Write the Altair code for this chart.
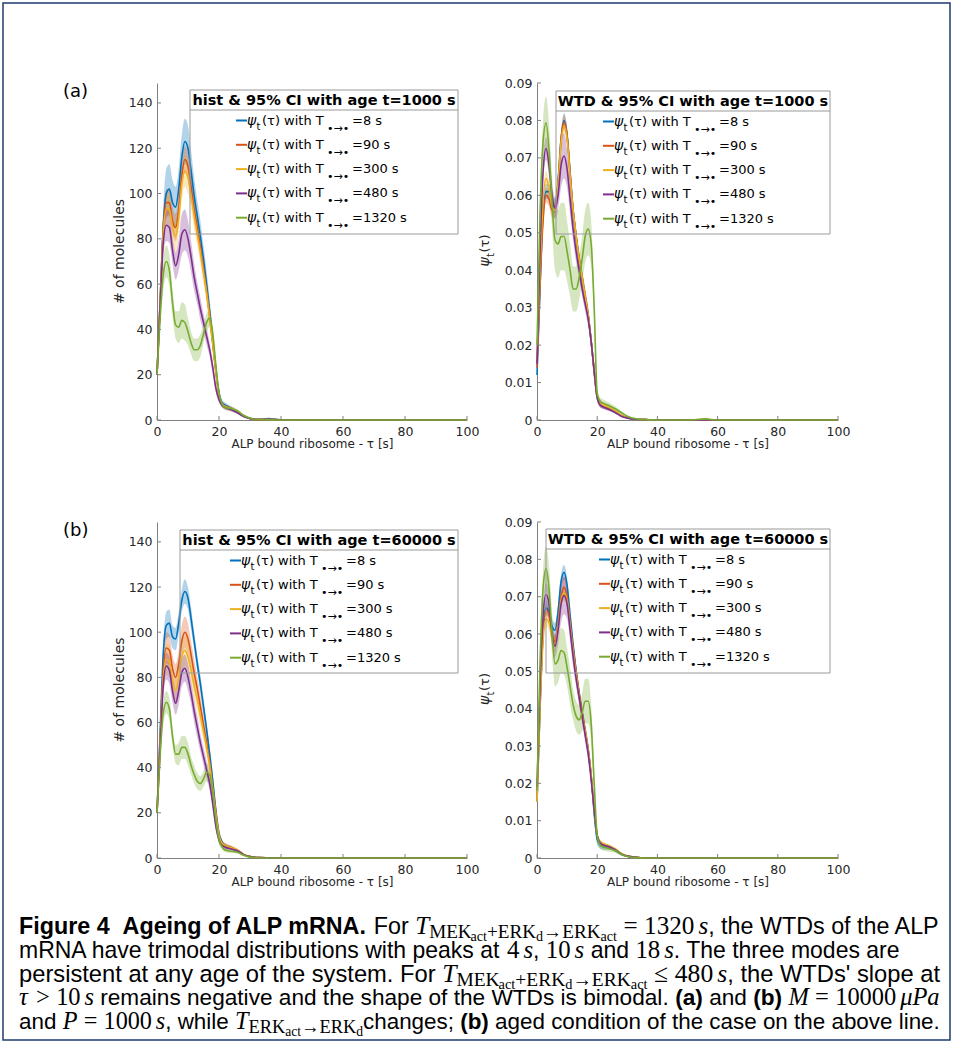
import altair as alt
import pandas as pd

# ---------------- data ----------------
TAU = [0, 1, 2, 3, 4, 5, 6, 7, 8, 9, 10, 11, 12, 13, 14, 15, 16, 17, 18, 19, 20,
       21, 22, 24, 26, 28, 30, 33, 36, 40, 50, 56, 60, 80, 100]
SERIES = ["8 s", "90 s", "300 s", "480 s", "1320 s"]
LEG_LABELS = ["=8 s", "=90 s", "=300 s", "=480 s", "=1320 s"]
COLORS = ["#0072BD", "#D95319", "#EDB120", "#7E2F8E", "#77AC30"]
X_TICKS = [0, 20, 40, 60, 80, 100]
HIST_TICKS = [0, 20, 40, 60, 80, 100, 120, 140]
WTD_TICKS = [0, 0.01, 0.02, 0.03, 0.04, 0.05, 0.06, 0.07, 0.08, 0.09]

# (a) histogram, age t = 1000 s
A_HIST_8 = [20, 52, 85, 100, 102, 96, 94, 102, 116, 123, 120, 110, 99, 90, 81, 71, 60, 48, 35, 22, 12, 7.5, 6.5, 5, 3.5, 1.8, 0.8, 0.3, 0.6, 0.1, 0, 0, 0, 0, 0]
A_HIST_8_CI = [3, 6, 9, 11, 11, 10, 9, 9, 10, 10, 10, 9, 8, 7, 7, 6, 6, 5, 4, 3, 2, 1.5, 1.2, 1, 0.8, 0.5, 0.3, 0.2, 0.3, 0.1, 0, 0, 0, 0, 0]
A_HIST_90 = [20, 52, 84, 96, 96, 88, 85, 93, 108, 115, 112, 103, 93, 85, 76, 67, 57, 46, 34, 21, 11, 7, 6, 5, 3.5, 1.6, 0.7, 0.2, 0.3, 0.1, 0, 0, 0, 0, 0]
A_HIST_90_CI = [2, 4, 6, 6, 6, 6, 6, 6, 6, 6, 6, 6, 5, 5, 5, 4, 4, 4, 3, 2, 1.5, 1.2, 1, 0.8, 0.6, 0.4, 0.2, 0.1, 0.1, 0, 0, 0, 0, 0, 0]
A_HIST_300 = [20, 51, 82, 93, 93, 85, 81, 89, 104, 110, 107, 99, 90, 82, 74, 65, 56, 45, 33, 21, 11, 7, 6, 5, 3.8, 1.8, 0.7, 0.2, 0.2, 0.1, 0, 0, 0, 0, 0]
A_HIST_300_CI = [2, 4, 6, 7, 7, 7, 7, 7, 7, 7, 7, 6, 6, 5, 5, 5, 4, 4, 3, 2, 1.5, 1.2, 1, 0.8, 0.6, 0.4, 0.2, 0.1, 0.1, 0, 0, 0, 0, 0, 0]
A_HIST_480 = [20, 50, 78, 86, 85, 75, 68, 73, 82, 84, 80, 72, 63, 56, 49, 43, 37, 31, 23, 14, 9, 6.5, 5.5, 4.5, 3.2, 1.5, 0.6, 0.2, 0.2, 0.1, 0, 0, 0, 0, 0]
A_HIST_480_CI = [2, 4, 6, 7, 7, 6, 6, 7, 9, 9, 8, 7, 6, 5, 5, 4, 4, 3, 3, 2, 1.5, 1, 1, 0.8, 0.6, 0.4, 0.2, 0.1, 0.1, 0, 0, 0, 0, 0, 0]
A_HIST_1320 = [20, 45, 64, 70, 66, 52, 42, 41, 44, 43, 39, 34, 31, 31, 33, 38, 43, 45, 38, 24, 12, 7, 5.5, 5, 4, 2, 0.8, 0.2, 0.1, 0, 0, 0, 0, 0, 0]
A_HIST_1320_CI = [2, 5, 7, 7, 7, 6, 6, 7, 8, 8, 6, 5, 5, 5, 5, 4, 4, 4, 4, 3, 2, 1.5, 1, 1, 0.8, 0.5, 0.3, 0.1, 0.1, 0, 0, 0, 0, 0, 0]

# (a) WTD, age t = 1000 s
A_WTD_8 = [0.012, 0.035, 0.055, 0.061, 0.061, 0.058, 0.057, 0.064, 0.075, 0.080, 0.076, 0.066, 0.056, 0.049, 0.043, 0.038, 0.033, 0.028, 0.021, 0.013, 0.006, 0.0042, 0.0036, 0.003, 0.0022, 0.0012, 0.0006, 0.0002, 0.0001, 0, 0, 0, 0, 0, 0]
A_WTD_8_CI = [0.001, 0.0015, 0.002, 0.002, 0.002, 0.002, 0.002, 0.002, 0.002, 0.002, 0.002, 0.002, 0.002, 0.002, 0.002, 0.002, 0.002, 0.002, 0.002, 0.0015, 0.001, 0.0008, 0.0006, 0.0005, 0.0004, 0.0003, 0.0002, 0.0001, 0, 0, 0, 0, 0, 0, 0]
A_WTD_90 = [0.014, 0.036, 0.053, 0.060, 0.059, 0.056, 0.056, 0.063, 0.075, 0.0795, 0.076, 0.066, 0.056, 0.049, 0.043, 0.038, 0.033, 0.028, 0.021, 0.013, 0.006, 0.0042, 0.0036, 0.003, 0.0022, 0.0012, 0.0006, 0.0002, 0.0001, 0, 0, 0, 0, 0, 0]
A_WTD_90_CI = [0.001, 0.0015, 0.002, 0.002, 0.002, 0.002, 0.002, 0.002, 0.002, 0.002, 0.002, 0.002, 0.002, 0.002, 0.002, 0.002, 0.002, 0.002, 0.002, 0.0015, 0.001, 0.0008, 0.0006, 0.0005, 0.0004, 0.0003, 0.0002, 0.0001, 0, 0, 0, 0, 0, 0, 0]
A_WTD_300 = [0.016, 0.040, 0.058, 0.0645, 0.062, 0.057, 0.056, 0.063, 0.074, 0.0785, 0.075, 0.065, 0.056, 0.049, 0.043, 0.038, 0.033, 0.028, 0.021, 0.013, 0.006, 0.0045, 0.004, 0.0033, 0.0024, 0.0013, 0.0006, 0.0002, 0.0001, 0, 0, 0, 0, 0, 0]
A_WTD_300_CI = [0.001, 0.002, 0.002, 0.002, 0.002, 0.002, 0.002, 0.002, 0.002, 0.002, 0.002, 0.002, 0.002, 0.002, 0.002, 0.002, 0.002, 0.002, 0.002, 0.0015, 0.001, 0.0008, 0.0006, 0.0005, 0.0004, 0.0003, 0.0002, 0.0001, 0, 0, 0, 0, 0, 0, 0]
A_WTD_480 = [0.015, 0.045, 0.066, 0.0725, 0.068, 0.060, 0.0565, 0.060, 0.068, 0.0705, 0.067, 0.059, 0.051, 0.045, 0.040, 0.035, 0.031, 0.027, 0.021, 0.013, 0.006, 0.004, 0.0035, 0.0028, 0.002, 0.001, 0.0005, 0.0002, 0.0001, 0, 0, 0, 0, 0, 0]
A_WTD_480_CI = [0.001, 0.002, 0.003, 0.003, 0.003, 0.003, 0.003, 0.004, 0.006, 0.006, 0.005, 0.004, 0.003, 0.003, 0.002, 0.002, 0.002, 0.002, 0.0015, 0.001, 0.0008, 0.0006, 0.0005, 0.0004, 0.0003, 0.0002, 0.0001, 0, 0, 0, 0, 0, 0, 0, 0]
A_WTD_1320 = [0.020, 0.055, 0.074, 0.0794, 0.072, 0.058, 0.048, 0.047, 0.049, 0.049, 0.045, 0.040, 0.035, 0.035, 0.038, 0.043, 0.049, 0.051, 0.047, 0.030, 0.007, 0.005, 0.0045, 0.0038, 0.003, 0.002, 0.001, 0.0003, 0.0001, 0, 0, 0.0003, 0, 0, 0]
A_WTD_1320_CI = [0.002, 0.004, 0.006, 0.007, 0.007, 0.007, 0.008, 0.009, 0.009, 0.009, 0.008, 0.007, 0.006, 0.006, 0.006, 0.006, 0.007, 0.007, 0.006, 0.004, 0.002, 0.001, 0.001, 0.0008, 0.0006, 0.0004, 0.0002, 0.0001, 0, 0, 0, 0.0002, 0, 0, 0]

# (b) histogram, age t = 60000 s
B_HIST_8 = [20, 55, 90, 103, 104, 98, 97, 104, 114, 118, 115, 106, 96, 86, 77, 67, 57, 46, 34, 21, 11, 7, 5.5, 4.5, 3, 1.5, 0.6, 0.2, 0.1, 0, 0, 0, 0, 0, 0]
B_HIST_8_CI = [2, 4, 5, 6, 6, 5, 5, 5, 5, 5.5, 5, 5, 4, 4, 4, 4, 3, 3, 3, 2, 1.5, 1.2, 1, 0.8, 0.6, 0.4, 0.2, 0.1, 0, 0, 0, 0, 0, 0, 0]
B_HIST_90 = [20, 52, 83, 93, 92, 84, 80, 86, 96, 100, 97, 90, 82, 75, 67, 59, 51, 42, 31, 20, 10, 6.5, 5.5, 4.5, 3.2, 1.5, 0.6, 0.2, 0.1, 0, 0, 0, 0, 0, 0]
B_HIST_90_CI = [2, 4, 6, 7, 7, 6, 6, 6, 7, 7, 7, 6, 6, 5, 5, 4, 4, 4, 3, 2, 1.5, 1.2, 1, 0.8, 0.6, 0.4, 0.2, 0.1, 0, 0, 0, 0, 0, 0, 0]
B_HIST_300 = [20, 50, 79, 88, 87, 79, 74, 80, 89, 92, 89, 83, 76, 70, 63, 56, 49, 41, 30, 19, 10, 6.5, 5.5, 4.5, 3.5, 1.6, 0.6, 0.2, 0.1, 0, 0, 0, 0, 0, 0]
B_HIST_300_CI = [2, 4, 6, 7, 7, 6, 6, 7, 7, 7, 7, 6, 6, 5, 5, 4, 4, 4, 3, 2, 1.5, 1.2, 1, 1, 0.8, 0.4, 0.2, 0.1, 0, 0, 0, 0, 0, 0, 0]
B_HIST_480 = [20, 48, 76, 85, 83, 74, 68.5, 74, 82, 84, 80, 73, 65, 58, 51, 45, 39, 33, 24, 14, 8, 5.5, 4.8, 4, 3.2, 1.5, 0.6, 0.2, 0.1, 0, 0, 0, 0, 0, 0]
B_HIST_480_CI = [2, 4, 5, 6, 6, 5, 5, 6, 6, 6, 6, 5, 5, 5, 4, 4, 4, 3, 3, 2, 1.5, 1, 1, 0.8, 0.6, 0.4, 0.2, 0.1, 0, 0, 0, 0, 0, 0, 0]
B_HIST_1320 = [20, 45, 64, 69, 66, 54, 46, 46, 49, 49, 46, 41, 37, 34, 33, 35, 38, 37, 29, 17, 8, 5, 3.5, 3, 2.5, 1.2, 0.4, 0.1, 0, 0, 0, 0, 0, 0, 0]
B_HIST_1320_CI = [2, 4, 5, 5, 5, 4, 4, 5, 5, 5, 5, 4, 4, 3.5, 3.3, 3.5, 4, 4, 4, 3, 2, 1.2, 1, 0.8, 0.6, 0.4, 0.2, 0.1, 0, 0, 0, 0, 0, 0, 0]

# (b) WTD, age t = 60000 s
B_WTD_8 = [0.015, 0.040, 0.060, 0.067, 0.066, 0.062, 0.061, 0.066, 0.074, 0.0765, 0.073, 0.065, 0.057, 0.050, 0.044, 0.039, 0.034, 0.029, 0.022, 0.012, 0.005, 0.0035, 0.003, 0.0028, 0.002, 0.001, 0.0005, 0.0002, 0, 0, 0, 0, 0, 0, 0]
B_WTD_8_CI = [0.001, 0.002, 0.002, 0.002, 0.002, 0.002, 0.002, 0.002, 0.002, 0.002, 0.002, 0.002, 0.002, 0.002, 0.002, 0.002, 0.002, 0.002, 0.002, 0.002, 0.0015, 0.001, 0.0008, 0.0006, 0.0004, 0.0003, 0.0002, 0.0001, 0, 0, 0, 0, 0, 0, 0]
B_WTD_90 = [0.016, 0.041, 0.060, 0.0665, 0.065, 0.060, 0.058, 0.063, 0.070, 0.0725, 0.070, 0.063, 0.056, 0.050, 0.044, 0.039, 0.034, 0.029, 0.022, 0.013, 0.006, 0.004, 0.0035, 0.003, 0.0022, 0.0011, 0.0005, 0.0002, 0, 0, 0, 0, 0, 0, 0]
B_WTD_90_CI = [0.001, 0.0015, 0.0015, 0.0015, 0.0015, 0.0015, 0.0015, 0.002, 0.003, 0.003, 0.003, 0.002, 0.002, 0.0015, 0.0015, 0.0015, 0.0015, 0.0015, 0.0015, 0.001, 0.001, 0.0008, 0.0006, 0.0005, 0.0004, 0.0003, 0.0002, 0.0001, 0, 0, 0, 0, 0, 0, 0]
B_WTD_300 = [0.015, 0.040, 0.058, 0.064, 0.063, 0.059, 0.057, 0.062, 0.069, 0.071, 0.069, 0.062, 0.055, 0.049, 0.043, 0.038, 0.034, 0.029, 0.022, 0.013, 0.006, 0.0042, 0.0038, 0.0032, 0.0024, 0.0012, 0.0005, 0.0002, 0, 0, 0, 0, 0, 0, 0]
B_WTD_300_CI = [0.001, 0.002, 0.002, 0.002, 0.002, 0.002, 0.002, 0.002, 0.002, 0.002, 0.002, 0.002, 0.002, 0.002, 0.002, 0.002, 0.002, 0.002, 0.002, 0.0015, 0.001, 0.0008, 0.0006, 0.0005, 0.0004, 0.0003, 0.0002, 0.0001, 0, 0, 0, 0, 0, 0, 0]
B_WTD_480 = [0.019, 0.046, 0.065, 0.0706, 0.068, 0.060, 0.0567, 0.061, 0.068, 0.0703, 0.068, 0.061, 0.054, 0.048, 0.043, 0.038, 0.033, 0.028, 0.021, 0.013, 0.006, 0.004, 0.0035, 0.003, 0.0022, 0.0011, 0.0005, 0.0002, 0, 0, 0, 0, 0, 0, 0]
B_WTD_480_CI = [0.001, 0.002, 0.003, 0.003, 0.003, 0.003, 0.003, 0.004, 0.005, 0.005, 0.004, 0.003, 0.003, 0.002, 0.002, 0.002, 0.002, 0.002, 0.0015, 0.001, 0.0008, 0.0006, 0.0005, 0.0004, 0.0003, 0.0002, 0.0001, 0, 0, 0, 0, 0, 0, 0, 0]
B_WTD_1320 = [0.018, 0.052, 0.072, 0.0775, 0.072, 0.060, 0.052, 0.053, 0.0556, 0.055, 0.051, 0.046, 0.041, 0.038, 0.037, 0.039, 0.042, 0.042, 0.036, 0.020, 0.006, 0.0035, 0.003, 0.0025, 0.002, 0.001, 0.0004, 0.0001, 0, 0, 0, 0, 0, 0, 0]
B_WTD_1320_CI = [0.002, 0.004, 0.005, 0.006, 0.006, 0.006, 0.006, 0.006, 0.006, 0.006, 0.005, 0.005, 0.004, 0.004, 0.004, 0.005, 0.006, 0.006, 0.005, 0.004, 0.002, 0.001, 0.001, 0.0008, 0.0006, 0.0004, 0.0002, 0.0001, 0, 0, 0, 0, 0, 0, 0]

# ---------------- styling helpers ----------------
SANS = "DejaVu Sans"
SERIF = "Liberation Serif"
CAPF = "Liberation Sans"
TXT = "#262626"
AXIS_C = "#808080"
LEG_C = "#9a9a9a"
FRAME_C = "#1f3b6e"
ONE = pd.DataFrame({"k": [0]})


def txt(s, x, y, size=13, weight="normal", font=SANS, align="left",
        baseline="middle", angle=None, style="normal", color="#000000"):
    kw = dict(align=align, baseline=baseline, font=font, fontSize=size,
              fontWeight=weight, fontStyle=style, color=color)
    if angle is not None:
        kw["angle"] = angle
    return alt.Chart(ONE).mark_text(**kw).encode(
        x=alt.value(x), y=alt.value(y), text=alt.value(s))


def hrule(x0, x1, y, color, width=1.0):
    return alt.Chart(ONE).mark_rule(color=color, strokeWidth=width).encode(
        x=alt.value(x0), x2=alt.value(x1), y=alt.value(y))


def legend_layers(geom, title):
    bx0, bx1, by0, by1, sx = geom
    layers = [
        alt.Chart(ONE).mark_rect(fillOpacity=0, stroke=LEG_C, strokeWidth=1).encode(
            x=alt.value(bx0), x2=alt.value(bx1), y=alt.value(by0), y2=alt.value(by1)),
        hrule(bx0, bx1, by0 + 20, LEG_C),
        txt(title, (bx0 + bx1) / 2, by0 + 10.5, size=14.5, weight="bold", align="center"),
    ]
    for i, (lab, col) in enumerate(zip(LEG_LABELS, COLORS)):
        y = by0 + 30.5 + i * 24.3
        layers += [
            hrule(sx, sx + 11, y, col, 2),
            txt("ψ", sx + 11, y, size=14, style="italic"),
            txt("t", sx + 20.5, y + 6, size=10),
            txt("(τ) with T", sx + 26, y),
            txt("•→•", sx + 91, y + 8, size=11),
            txt(lab, sx + 116, y),
        ]
    return layers


def panel(series, w, h, ymax, yticks, wtd, geom, title, tag=None):
    rows = []
    for name, mean, ci in series:
        for t, m, c in zip(TAU, mean, ci):
            rows.append({"tau": t, "mean": m, "lo": max(m - c, 0.0), "hi": m + c,
                         "series": name})
    df = pd.DataFrame(rows)
    xscale = alt.Scale(domain=[0, 100], nice=False, zero=False)
    yscale = alt.Scale(domain=[0, ymax], nice=False, zero=True)
    xaxis = alt.Axis(values=X_TICKS, title="ALP bound ribosome - τ [s]", ticks=False,
                     grid=False, domainColor=AXIS_C, domainWidth=1, labelColor=TXT,
                     labelFont=SANS, labelFontSize=12.5, labelPadding=5, labelFlush=False,
                     labelOverlap=False, titleFont=SANS, titleFontSize=12,
                     titleFontWeight="normal", titleColor=TXT, titlePadding=1)
    ykw = dict(values=yticks, title="", ticks=False, grid=False, domainColor=AXIS_C,
               domainWidth=1, labelColor=TXT, labelFont=SANS, labelFontSize=12.5,
               labelPadding=5, labelFlush=False, labelOverlap=False)
    if wtd:
        ykw["labelExpr"] = "datum.value == 0 ? '0' : format(datum.value, '.2f')"
    yaxis = alt.Axis(**ykw)
    X = alt.X("tau:Q", scale=xscale, axis=xaxis)
    color = alt.Color("series:N", scale=alt.Scale(domain=SERIES, range=COLORS), legend=None)

    band = alt.Chart(df).mark_area(opacity=0.3, interpolate="monotone").encode(
        X, alt.Y("lo:Q", scale=yscale, axis=yaxis), alt.Y2("hi:Q"), color)
    line = alt.Chart(df).mark_line(strokeWidth=1.6, interpolate="monotone").encode(
        X, alt.Y("mean:Q", scale=yscale, axis=yaxis), color)
    xt = alt.Chart(pd.DataFrame({"tau": X_TICKS})).mark_rule(color=AXIS_C).encode(
        X, y=alt.value(h), y2=alt.value(h - 4))
    yt = alt.Chart(pd.DataFrame({"mean": yticks})).mark_rule(color=AXIS_C).encode(
        alt.Y("mean:Q", scale=yscale, axis=yaxis), x=alt.value(0), x2=alt.value(4))

    layers = [band, line, xt, yt] + legend_layers(geom, title)
    if wtd:
        cy = h / 2
        layers += [
            txt("ψ", -52, cy + 15, size=14, angle=270, style="italic", color=TXT),
            txt("t", -46.5, cy + 5.5, size=10, angle=270, color=TXT),
            txt("(τ)", -52, cy + 1, size=13, angle=270, color=TXT),
        ]
    else:
        layers.append(txt("# of molecules", -37, h / 2, size=14, align="center",
                          angle=270, color=TXT))
    if tag:
        layers.append(txt(tag, -94, 9, size=18, color="#000000"))
    return alt.layer(*layers).properties(width=w, height=h)


# ---------------- caption (real text, laid out piece by piece) ----------------
def _tbl(chars, widths):
    return dict(zip(chars, widths))

UP = "ABCDEFGHIJKLMNOPQRSTUVWXYZ"
LO = "abcdefghijklmnopqrstuvwxyz"
PUN = " !'(),-.:;0123456789"
ARIAL_R = _tbl(UP, [667, 667, 722, 722, 667, 611, 778, 722, 278, 500, 667, 556, 833, 722, 778, 667, 778, 722, 667, 611, 722, 667, 944, 667, 667, 611])
ARIAL_R.update(_tbl(LO, [556, 556, 500, 556, 556, 278, 556, 556, 222, 222, 500, 222, 833, 556, 556, 556, 556, 333, 500, 278, 556, 500, 722, 500, 500, 500]))
ARIAL_R.update(_tbl(PUN, [278, 278, 191, 333, 333, 278, 333, 278, 278, 278] + [556] * 10))
ARIAL_B = _tbl(UP, [722, 722, 722, 722, 667, 611, 778, 722, 278, 556, 722, 611, 833, 722, 778, 667, 778, 722, 667, 611, 722, 667, 944, 667, 667, 611])
ARIAL_B.update(_tbl(LO, [556, 611, 556, 611, 556, 333, 611, 611, 278, 278, 556, 278, 889, 611, 611, 611, 611, 389, 556, 333, 611, 556, 778, 556, 556, 500]))
ARIAL_B.update(_tbl(PUN, [278, 333, 238, 333, 333, 278, 333, 278, 333, 333] + [556] * 10))
TIMES = {"T": 556, "M": 833, "E": 611, "K": 722, "R": 667, "a": 444, "c": 444, "t": 278,
         "+": 564, "d": 500, "→": 1000, "=": 564, ">": 564, "≤": 549, "s": 389,
         "P": 611, "μ": 576, "τ": 440}
TIMES.update({d: 500 for d in "0123456789"})

MREL = 1.08   # math size relative to text size
STY = {
    "r": dict(font=CAPF, rel=1.0, weight="normal", style="normal", dy=0, tbl=ARIAL_R),
    "b": dict(font=CAPF, rel=1.0, weight="bold", style="normal", dy=0, tbl=ARIAL_B),
    "mi": dict(font=SERIF, rel=MREL, weight="normal", style="italic", dy=0, tbl=TIMES),
    "mr": dict(font=SERIF, rel=MREL, weight="normal", style="normal", dy=0, tbl=TIMES),
    "s1": dict(font=SERIF, rel=MREL * 0.76, weight="normal", style="normal", dy=0.17, tbl=TIMES),
    "s2": dict(font=SERIF, rel=MREL * 0.56, weight="normal", style="normal", dy=0.31, tbl=TIMES),
}
GAPS = {"sp": 0.278, "th": 0.17}


def em_width(text, st):
    s = STY[st]
    return sum(s["tbl"].get(ch, 556) for ch in text) / 1000.0 * s["rel"]


SP = ("", "sp")
TH = ("", "th")
TSUB1 = [("T", "mi"), ("MEK", "s1"), ("act", "s2"), ("+ERK", "s1"), ("d", "s2"),
         ("→ERK", "s1"), ("act", "s2")]
CAP_LINES = [
    ([("Figure 4", "b"), SP, SP, ("Ageing of ALP mRNA.", "b"), SP, ("For", "r"), SP] + TSUB1 +
     [SP, ("=", "mr"), SP, ("1320", "mr"), TH, ("s", "mi"), (",", "r"), SP,
      ("the WTDs of the ALP", "r")], True),
    ([("mRNA have trimodal distributions with peaks at", "r"), SP, ("4", "mr"), TH, ("s", "mi"),
      (",", "r"), SP, ("10", "mr"), TH, ("s", "mi"), SP, ("and", "r"), SP, ("18", "mr"), TH,
      ("s", "mi"), (". The three modes are", "r")], False),
    ([("persistent at any age of the system. For", "r"), SP] + TSUB1 +
     [SP, ("≤", "mr"), SP, ("480", "mr"), TH, ("s", "mi"), (",", "r"), SP,
      ("the WTDs' slope at", "r")], True),
    ([("τ", "mi"), SP, (">", "mr"), SP, ("10", "mr"), TH, ("s", "mi"), SP,
      ("remains negative and the shape of the WTDs is bimodal.", "r"), SP, ("(a)", "b"), SP,
      ("and", "r"), SP, ("(b)", "b"), SP, ("M", "mi"), SP, ("=", "mr"), SP, ("10000", "mr"), TH,
      ("μPa", "mi")], True),
    ([("and", "r"), SP, ("P", "mi"), SP, ("=", "mr"), SP, ("1000", "mr"), TH, ("s", "mi"),
      (", while", "r"), SP, ("T", "mi"), ("ERK", "s1"), ("act", "s2"), ("→ERK", "s1"), ("d", "s2"),
      ("changes;", "r"), SP, ("(b)", "b"), SP,
      ("aged condition of the case on the above line.", "r")], True),
]
CAP_X0, CAP_X1, CAP_X1_SHORT = 19, 940, 900
CAP_BASE = [934, 958, 982, 1005, 1029]


def line_em(tokens):
    return sum(GAPS[st] if st in GAPS else em_width(t, st) for t, st in tokens)


# text size calibrated so that the unjustified second line ends where it does
CS = (CAP_X1_SHORT - CAP_X0) / line_em(CAP_LINES[1][0])


def caption_layers(ox, oy):
    layers = []
    for (tokens, justify), base in zip(CAP_LINES, CAP_BASE):
        nat = line_em(tokens) * CS
        # each justified line is set at a size that fills the measure with normal spacing
        f = (CAP_X1 - CAP_X0) / nat if justify else 1.0
        f = min(max(f, 0.9), 1.1)
        size = CS * f
        x = CAP_X0
        for t, st in tokens:
            if st in GAPS:
                x += GAPS[st] * size
                continue
            s = STY[st]
            layers.append(txt(t, x - ox, base + s["dy"] * size - oy, size=round(s["rel"] * size, 2),
                              weight=s["weight"], font=s["font"], style=s["style"],
                              baseline="alphabetic"))
            x += em_width(t, st) * size
    return layers


# ---------------- panels ----------------
A_L_ORIG = (157, 83)
B_L_ORIG = (157, 522)

a_left = panel(
    [(SERIES[0], A_HIST_8, A_HIST_8_CI), (SERIES[1], A_HIST_90, A_HIST_90_CI),
     (SERIES[2], A_HIST_300, A_HIST_300_CI), (SERIES[3], A_HIST_480, A_HIST_480_CI),
     (SERIES[4], A_HIST_1320, A_HIST_1320_CI)],
    310, 337, 148.8, HIST_TICKS, False, (33, 301, 7, 151, 79),
    "hist & 95% CI with age t=1000 s", tag="(a)")
frame = alt.Chart(ONE).mark_rect(fillOpacity=0, stroke=FRAME_C, strokeWidth=1.5).encode(
    x=alt.value(3 - A_L_ORIG[0]), x2=alt.value(950 - A_L_ORIG[0]),
    y=alt.value(3 - A_L_ORIG[1]), y2=alt.value(1040 - A_L_ORIG[1]))
a_left = alt.layer(a_left, frame)

a_right = panel(
    [(SERIES[0], A_WTD_8, A_WTD_8_CI), (SERIES[1], A_WTD_90, A_WTD_90_CI),
     (SERIES[2], A_WTD_300, A_WTD_300_CI), (SERIES[3], A_WTD_480, A_WTD_480_CI),
     (SERIES[4], A_WTD_1320, A_WTD_1320_CI)],
    301, 337, 0.09, WTD_TICKS, True, (19, 293, 8, 151, 66),
    "WTD & 95% CI with age t=1000 s")

b_left = panel(
    [(SERIES[0], B_HIST_8, B_HIST_8_CI), (SERIES[1], B_HIST_90, B_HIST_90_CI),
     (SERIES[2], B_HIST_300, B_HIST_300_CI), (SERIES[3], B_HIST_480, B_HIST_480_CI),
     (SERIES[4], B_HIST_1320, B_HIST_1320_CI)],
    310, 336, 148.8, HIST_TICKS, False, (23, 301, 8, 151, 73),
    "hist & 95% CI with age t=60000 s", tag="(b)")
b_left = alt.layer(b_left, *caption_layers(*B_L_ORIG))

b_right = panel(
    [(SERIES[0], B_WTD_8, B_WTD_8_CI), (SERIES[1], B_WTD_90, B_WTD_90_CI),
     (SERIES[2], B_WTD_300, B_WTD_300_CI), (SERIES[3], B_WTD_480, B_WTD_480_CI),
     (SERIES[4], B_WTD_1320, B_WTD_1320_CI)],
    301, 336, 0.09, WTD_TICKS, True, (9, 293, 7, 151, 62),
    "WTD & 95% CI with age t=60000 s")

chart = alt.concat(a_left, a_right, b_left, b_right, columns=2,
                   spacing={"row": 102, "column": 70}, bounds="flush").properties(
    padding={"left": 2, "top": 2, "right": 3, "bottom": 3}, background="white"
).configure_view(strokeWidth=0)

chart.save("out.html", embed_options={"renderer": "svg", "actions": False})
